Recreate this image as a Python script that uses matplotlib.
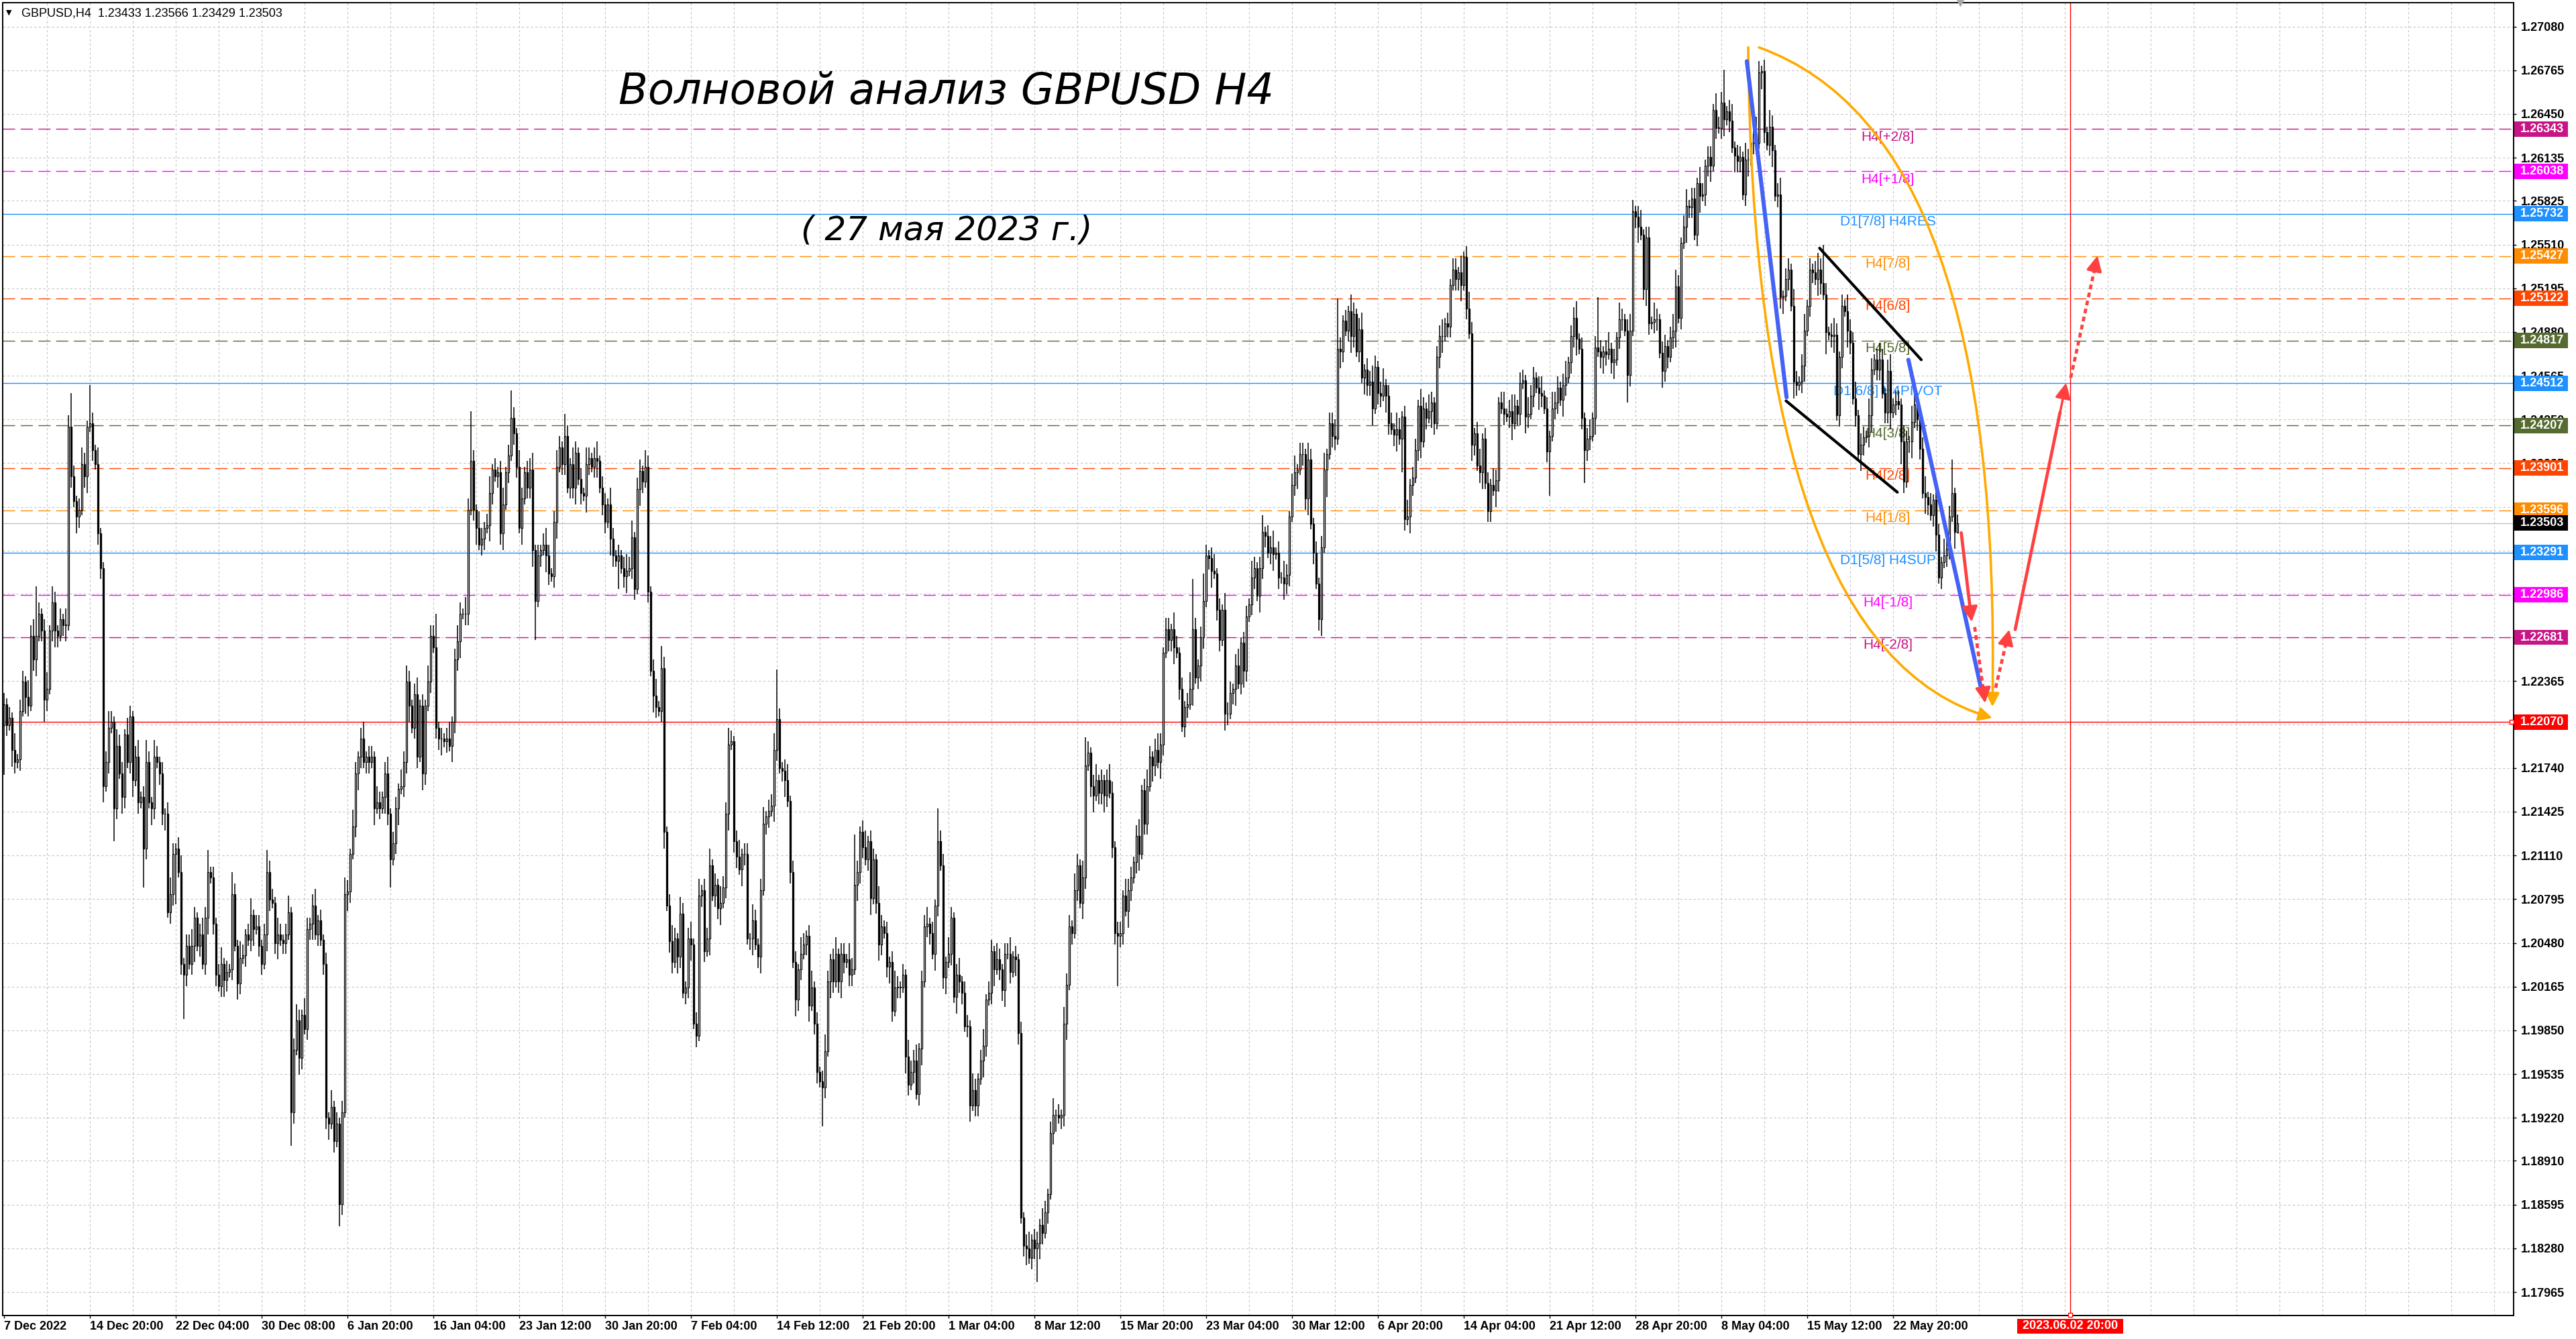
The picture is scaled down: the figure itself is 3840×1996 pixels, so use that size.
import matplotlib
matplotlib.use("Agg")
import matplotlib.pyplot as plt
from matplotlib.patches import Rectangle, FancyArrowPatch
from matplotlib.path import Path

W, H, DPI = 3840, 1996, 100

# ---------------- price data: H4 closes in pips above 1.17000 (from 7 Dec 2022 12:00) ----------------
BASE = 1.17
closes_pips = [
    520, 505, 510, 487, 478, 480, 515, 536, 525, 519,
    569, 552, 569, 585, 573, 523, 531, 573, 593, 573,
    569, 581, 577, 577, 720, 684, 666, 655, 660, 693,
    684, 720, 722, 703, 693, 643, 618, 461, 478, 503,
    507, 445, 490, 470, 453, 498, 478, 511, 465, 482,
    449, 453, 416, 478, 449, 445, 482, 478, 470, 441,
    441, 370, 383, 412, 416, 399, 333, 325, 346, 333,
    346, 366, 346, 354, 333, 366, 399, 395, 362, 325,
    317, 333, 321, 327, 329, 383, 346, 319, 337, 339,
    354, 350, 368, 358, 360, 346, 333, 354, 399, 379,
    377, 348, 354, 350, 348, 354, 370, 226, 271, 292,
    265, 296, 286, 358, 362, 375, 354, 364, 350, 333,
    222, 218, 230, 205, 218, 160, 226, 383, 385, 412,
    432, 470, 482, 495, 478, 482, 478, 482, 445, 449,
    445, 453, 470, 441, 408, 420, 445, 459, 461, 478,
    536, 519, 503, 527, 482, 519, 470, 519, 536, 569,
    561, 503, 495, 495, 493, 495, 490, 507, 552, 565,
    585, 585, 585, 660, 695, 660, 647, 635, 639, 647,
    649, 672, 689, 684, 687, 643, 664, 687, 699, 726,
    715, 691, 647, 668, 687, 676, 689, 631, 594, 627,
    631, 635, 627, 614, 612, 651, 691, 705, 693, 713,
    676, 693, 676, 701, 682, 672, 670, 693, 697, 691,
    697, 695, 676, 664, 651, 664, 639, 627, 623, 627,
    618, 612, 616, 618, 640, 603, 675, 688, 680, 691,
    601, 544, 526, 518, 515, 546, 428, 375, 349, 334,
    351, 338, 369, 312, 316, 351, 347, 290, 281, 382,
    386, 342, 351, 404, 382, 390, 373, 377, 388, 441,
    491, 493, 421, 410, 401, 412, 412, 351, 351, 364,
    347, 338, 386, 434, 439, 443, 447, 487, 509, 474,
    472, 465, 450, 399, 334, 307, 329, 340, 347, 353,
    303, 316, 290, 255, 248, 244, 270, 320, 336, 320,
    340, 320, 340, 334, 336, 325, 329, 390, 399, 428,
    417, 408, 421, 380, 408, 377, 347, 360, 355, 331,
    334, 299, 316, 316, 316, 325, 266, 246, 255, 263,
    239, 272, 320, 360, 362, 355, 340, 375, 421, 404,
    323, 334, 340, 366, 309, 325, 320, 312, 288, 288,
    231, 242, 231, 250, 263, 274, 307, 312, 342, 329,
    336, 329, 314, 340, 340, 327, 338, 336, 283, 150,
    130, 128, 121, 134, 128, 132, 145, 139, 154, 167,
    211, 224, 224, 222, 224, 290, 318, 360, 355, 386,
    404, 377, 395, 476, 485, 461, 454, 465, 456, 465,
    454, 465, 456, 417, 355, 353, 355, 382, 371, 386,
    395, 406, 425, 412, 458, 434, 461, 482, 476, 487,
    478, 491, 557, 574, 566, 574, 561, 557, 531, 504,
    518, 520, 531, 574, 539, 548, 568, 594, 627, 625,
    616, 614, 588, 566, 588, 513, 513, 528, 531, 548,
    535, 564, 544, 583, 592, 611, 618, 598, 618, 644,
    641, 629, 633, 628, 629, 611, 611, 607, 613, 655,
    678, 687, 689, 700, 700, 668, 696, 650, 629, 607,
    581, 633, 689, 700, 722, 713, 711, 776, 774, 796,
    789, 803, 785, 801, 774, 790, 755, 761, 750, 752,
    733, 763, 744, 742, 750, 742, 722, 718, 714, 718,
    711, 727, 653, 655, 678, 683, 703, 735, 709, 733,
    726, 731, 737, 722, 770, 785, 785, 794, 792, 822,
    833, 826, 831, 822, 842, 805, 787, 707, 715, 692,
    687, 711, 679, 659, 678, 674, 681, 737, 733, 729,
    727, 731, 722, 735, 729, 751, 753, 727, 729, 742,
    755, 748, 744, 742, 733, 702, 713, 733, 737, 748,
    739, 750, 755, 766, 785, 798, 783, 776, 726, 703,
    711, 713, 726, 777, 774, 770, 774, 772, 776, 766,
    768, 784, 797, 797, 789, 757, 789, 875, 871, 864,
    858, 819, 856, 794, 795, 797, 797, 773, 760, 778,
    770, 784, 789, 821, 798, 852, 864, 879, 878, 884,
    858, 895, 886, 887, 908, 914, 908, 948, 935, 935,
    953, 941, 947, 940, 921, 915, 911, 914, 887, 912,
    912, 924, 931, 924, 975, 976, 932, 923, 936, 919,
    886, 887, 813, 814, 826, 833, 807, 752, 750, 752,
    764, 789, 807, 833, 831, 826, 833, 823, 815, 788,
    786, 785, 786, 728, 770, 807, 803, 789, 780, 740,
    728, 700, 707, 712, 713, 728, 761, 768, 761, 768,
    744, 730, 760, 730, 736, 738, 736, 709, 680, 709,
    709, 723, 736, 725, 704, 672, 669, 664, 656, 667,
    642, 611, 622, 627, 632, 655, 672, 644, 650,
]
first_open_pips = 505
# wick lengths beyond the body, one digit per bar, in steps of 4 pips
WICK_STEP = 4
UP_WICKS = """
2121312213 2392123132 1213262123 2172131123 2132213212
3124213212 1232123122 3212324121 2312142132 1231221242
2132123123 2132123121 2131212321 3212312213 2123122132
3212312132 2612123123 2132921321 2312123125 2132122312
1232123214 2132121321 2312213212 1232312213 2123142123
2132123123 1223121322 3212312213 2123122392 1231221321
2312123212 3122132921 2312213212 1232121322 3122312162
2132123122 1321231221 3212231212 1231221321 2312132213
2135212312 1232122132 2123123212 3212213212 1239212521
2312132212 3122132123 1223121321 2312213212 1231223921
2132123122 3212312213 2123122132 1321223121 2213123212
3122132123 1232122132 2123121322 1231223121 2312921231
2132123212 3122132122 1233212312 2132122132 2612312213
2123212132 1231221321 2312123272 1232121322 3122132123
2123122132 1321223121 2213226120 0000000000 0000000000
"""
DN_WICKS = """
9213212132 1231242123 2123121321 2312122312 1621321231
2172132122 3122912821 2312123122 1232121321 2123122132
1231221621 3212231212 2312142132 1232122131 2132512312
2312213212 1223121322 3122123122 1321223121 2213122371
2132123122 1223121321 2312213215 1231221321 2132123122
1321223121 2213122312 3122132123 1231221321 2312132212
3122172132 1232122132 2123123212 3212213212 1231221321
2312132212 3122132123 1223121321 2312263212 1231223121
2132123122 3212292213 2123122132 1321223121 2213123212
3122132123 1232122132 2123121322 1231223121 2315122132
1232121322 3122132123 1621321231 2132123122 1223121321
2312213212 1231221321 2132128122 1321223126 2213123212
3122152123 1232122132 2123121322 1231223121 2312132212
3122132123 1223121321 2312213214 1231221321 2132123122
1223121421 2312213212 3121221300 0000000000 0000000000
"""
last_ohlc = [1.23433, 1.23566, 1.23429, 1.23503]
symbol = "GBPUSD,H4"

# ---------------- axes ----------------
time_labels = ['7 Dec 2022', '14 Dec 20:00', '22 Dec 04:00', '30 Dec 08:00', '6 Jan 20:00',
               '16 Jan 04:00', '23 Jan 12:00', '30 Jan 20:00', '7 Feb 04:00', '14 Feb 12:00',
               '21 Feb 20:00', '1 Mar 04:00', '8 Mar 12:00', '15 Mar 20:00', '23 Mar 04:00',
               '30 Mar 12:00', '6 Apr 20:00', '14 Apr 04:00', '21 Apr 12:00', '28 Apr 20:00',
               '8 May 04:00', '15 May 12:00', '22 May 20:00']
LABEL_STEP = 32
GRID_STEP = 16
x_range = (-0.5, 935.25)
y_range = (1.17796, 1.27252)
price_ticks = [1.27080, 1.26765, 1.26450, 1.26135, 1.25825, 1.25510, 1.25195, 1.24880,
               1.24565, 1.24250, 1.23935, 1.23620, 1.23305, 1.22995, 1.22680, 1.22365,
               1.22055, 1.21740, 1.21425, 1.21110, 1.20795, 1.20480, 1.20165, 1.19850,
               1.19535, 1.19220, 1.18910, 1.18595, 1.18280, 1.17965]
future_bar = 770
future_label = '2023.06.02 20:00'
target_price = 1.22070

# ---------------- Murrey levels ----------------
level_prices = [1.26343, 1.26038, 1.25732, 1.25427, 1.25122, 1.24817, 1.24512,
                1.24207, 1.23901, 1.23596, 1.23291, 1.22986, 1.22681]
level_names = ['H4[+2/8]', 'H4[+1/8]', 'D1[7/8] H4RES', 'H4[7/8]', 'H4[6/8]', 'H4[5/8]',
               'D1[6/8] H4PIVOT', 'H4[3/8]', 'H4[2/8]', 'H4[1/8]', 'D1[5/8] H4SUP',
               'H4[-1/8]', 'H4[-2/8]']
level_colors = ['#C71585', '#FF00FF', '#1E90FF', '#FF8C00', '#FF4500', '#556B2F', '#1E90FF',
                '#556B2F', '#FF4500', '#FF8C00', '#1E90FF', '#FF00FF', '#C71585']
level_dashed = [True, True, False, True, True, True, False, True, True, True, False, True, True]
LABEL_BAR = 702

# ---------------- wave drawing ----------------
orange_arcs = [[(650, 1.2693), (652, 1.2260), (741, 1.2210)],
               [(654, 1.2693), (745, 1.2630), (741, 1.2218)]]
blue_lines = [[(649.5, 1.2683), (664.3, 1.2441)],
              [(709.7, 1.2468), (736.7, 1.2232)]]
black_lines = [[(676.6, 1.25484), (714.5, 1.2468)],
               [(664.1, 1.24384), (705.6, 1.23726)]]
red_arrows = [[(729.4, 1.23434), (733.3, 1.22792)],
              [(734.4, 1.22755), (738.3, 1.22207)],
              [(742.2, 1.22317), (747.3, 1.22737)],
              [(749.5, 1.22737), (768.5, 1.24514)],
              [(770.2, 1.24551), (780.2, 1.25430)]]
red_dotted = [False, True, True, False, True]

title = 'Волновой анализ GBPUSD H4'
subtitle = '( 27 мая 2023 г.)'

# ---------------- build candles ----------------
n = len(closes_pips)
closes = [BASE + c / 10000 for c in closes_pips]
opens = [BASE + first_open_pips / 10000] + closes[:-1]
up = [int(ch) for ch in "".join(UP_WICKS.split())[:n]]
dn = [int(ch) for ch in "".join(DN_WICKS.split())[:n]]
highs = [max(o, c) + u * WICK_STEP / 10000 for o, c, u in zip(opens, closes, up)]
lows = [min(o, c) - d * WICK_STEP / 10000 for o, c, d in zip(opens, closes, dn)]
opens[-1], highs[-1], lows[-1], closes[-1] = last_ohlc

FONT = 'Liberation Sans'
fig = plt.figure(figsize=(W / DPI, H / DPI), dpi=DPI)
ax = fig.add_axes([4 / W, 35 / H, 3743 / W, 1957 / H])
ax.set_xlim(*x_range)
ax.set_ylim(*y_range)

# grid
for p in price_ticks:
    ax.axhline(p, color='#c4c4c4', lw=0.8, ls=(0, (3, 3)), zorder=0.5)
for b in range(GRID_STEP, int(x_range[1]) + 1, GRID_STEP):
    ax.axvline(b, color='#c4c4c4', lw=0.8, ls=(0, (3, 3)), zorder=0.5)

# levels
for p, name, col, dashed in zip(level_prices, level_names, level_colors, level_dashed):
    ax.axhline(p, color=col, lw=1.0, ls=(0, (13, 6)) if dashed else '-', zorder=1)
    ax.text(LABEL_BAR, p - 0.00012, name, color=col, fontsize=15, family=FONT,
            ha='center', va='top', zorder=2)
ax.axhline(last_ohlc[3], color='#c0c0c0', lw=1.0, zorder=1)
ax.axhline(target_price, color='red', lw=1.0, zorder=1)
ax.axvline(future_bar, color='red', lw=1.0, zorder=1)

# candles
xs = list(range(n))
ax.vlines(xs, lows, highs, color='black', lw=1.1, zorder=3)
bottoms = [min(o, c) for o, c in zip(opens, closes)]
heights = [max(abs(c - o), 0.00002) for o, c in zip(opens, closes)]
faces = ['white' if c >= o else 'black' for o, c in zip(opens, closes)]
ax.bar(xs, heights, bottom=bottoms, width=0.7, color=faces, edgecolor='black',
       linewidth=0.9, zorder=4)

# wave drawings
ORANGE, RED, BLUE = '#FFAA00', '#FF4040', '#4462F5'
for s, c, e in orange_arcs:
    arc = Path([s, c, e], [Path.MOVETO, Path.CURVE3, Path.CURVE3])
    ax.add_patch(FancyArrowPatch(path=arc, arrowstyle='-|>,head_length=0.6,head_width=0.3',
                                 mutation_scale=20, color=ORANGE, lw=2.6,
                                 transform=ax.transData, zorder=6))
for (x0, y0), (x1, y1) in blue_lines:
    ax.plot([x0, x1], [y0, y1], color=BLUE, lw=4.4, solid_capstyle='round', zorder=6)
for (x0, y0), (x1, y1) in black_lines:
    ax.plot([x0, x1], [y0, y1], color='black', lw=3.0, solid_capstyle='round', zorder=6)
for ((x0, y0), (x1, y1)), dotted in zip(red_arrows, red_dotted):
    hx, hy = x0 + 0.88 * (x1 - x0), y0 + 0.88 * (y1 - y0)
    ax.plot([x0, hx], [y0, hy], color=RED, lw=3.4,
            ls=(0, (1.5, 1.1)) if dotted else '-', solid_capstyle='round', zorder=7)
    ax.annotate('', xy=(x1, y1), xytext=(hx, hy), zorder=7,
                arrowprops=dict(arrowstyle='-|>,head_length=0.7,head_width=0.35', color=RED,
                                lw=2.5, shrinkA=0, shrinkB=0, mutation_scale=20))

# small end markers
ax.plot([x_range[1] - 0.8], [target_price], marker='s', ms=4, mfc='white', mec='red',
        mew=1, zorder=8, clip_on=False)
ax.plot([future_bar], [y_range[0] + 0.00004], marker='s', ms=4, mfc='white', mec='red',
        mew=1, zorder=8, clip_on=False)
ax.plot([n], [y_range[1]], marker='v', ms=7, color='#a8a8a8', zorder=8, clip_on=False)

# axes styling
for side in ['left', 'right', 'top', 'bottom']:
    ax.spines[side].set_linewidth(1.4)
    ax.spines[side].set_color('black')
ax.yaxis.tick_right()
ax.set_yticks(price_ticks)
ax.set_yticklabels([f'{p:.5f}' for p in price_ticks])
ax.set_xticks([i * LABEL_STEP for i in range(len(time_labels))])
ax.set_xticklabels(time_labels)
ax.tick_params(axis='y', direction='out', length=3, width=1, pad=4.5, labelsize=13)
ax.tick_params(axis='x', direction='out', length=3, width=1, pad=2.5, labelsize=13)
for lab in ax.get_xticklabels():
    lab.set_horizontalalignment('left')
    lab.set_fontfamily(FONT)
    lab.set_fontweight('bold')
for lab in ax.get_yticklabels():
    lab.set_fontfamily(FONT)
    lab.set_fontweight('bold')

# coloured price boxes on the right scale
box_prices = level_prices[:10] + [last_ohlc[3]] + level_prices[10:] + [target_price]
box_colors = level_colors[:10] + ['black'] + level_colors[10:] + ['#FF0000']
ytr = ax.get_yaxis_transform()
for p, col in zip(box_prices, box_colors):
    ax.add_patch(Rectangle((1.0004, p - 0.000555), 0.02124, 0.00111, transform=ytr,
                           facecolor=col, edgecolor='none', clip_on=False, zorder=20))
    ax.text(1.00267, p, f'{p:.5f}', transform=ytr, color='white', fontsize=13, family=FONT,
            fontweight='bold', ha='left', va='center', clip_on=False, zorder=21)

# future time box on the time scale
xtr = ax.get_xaxis_transform()
ax.add_patch(Rectangle((future_bar - 19.75, -0.01379), 39.5, 0.01124, transform=xtr,
                       facecolor='#FF0000', edgecolor='none', clip_on=False, zorder=20))
ax.text(future_bar, -0.00817, future_label, transform=xtr, color='white', fontsize=13,
        family=FONT, fontweight='bold', ha='center', va='center', clip_on=False, zorder=21)

# header and titles
fig.text(9 / W, 1 - 19 / H, '▼', fontsize=8, family='DejaVu Sans', va='center')
fig.text(32 / W, 1 - 20 / H,
         f'{symbol}  ' + ' '.join(f'{v:.5f}' for v in last_ohlc),
         fontsize=13, family=FONT, va='center')
fig.text(1411 / W, 1 - 137 / H, title, fontsize=46, family='DejaVu Sans', style='italic',
         ha='center', va='center')
fig.text(1411 / W, 1 - 344 / H, subtitle, fontsize=36, family='DejaVu Sans', style='italic',
         ha='center', va='center')

fig.savefig('out.png', dpi=DPI, facecolor='white')
